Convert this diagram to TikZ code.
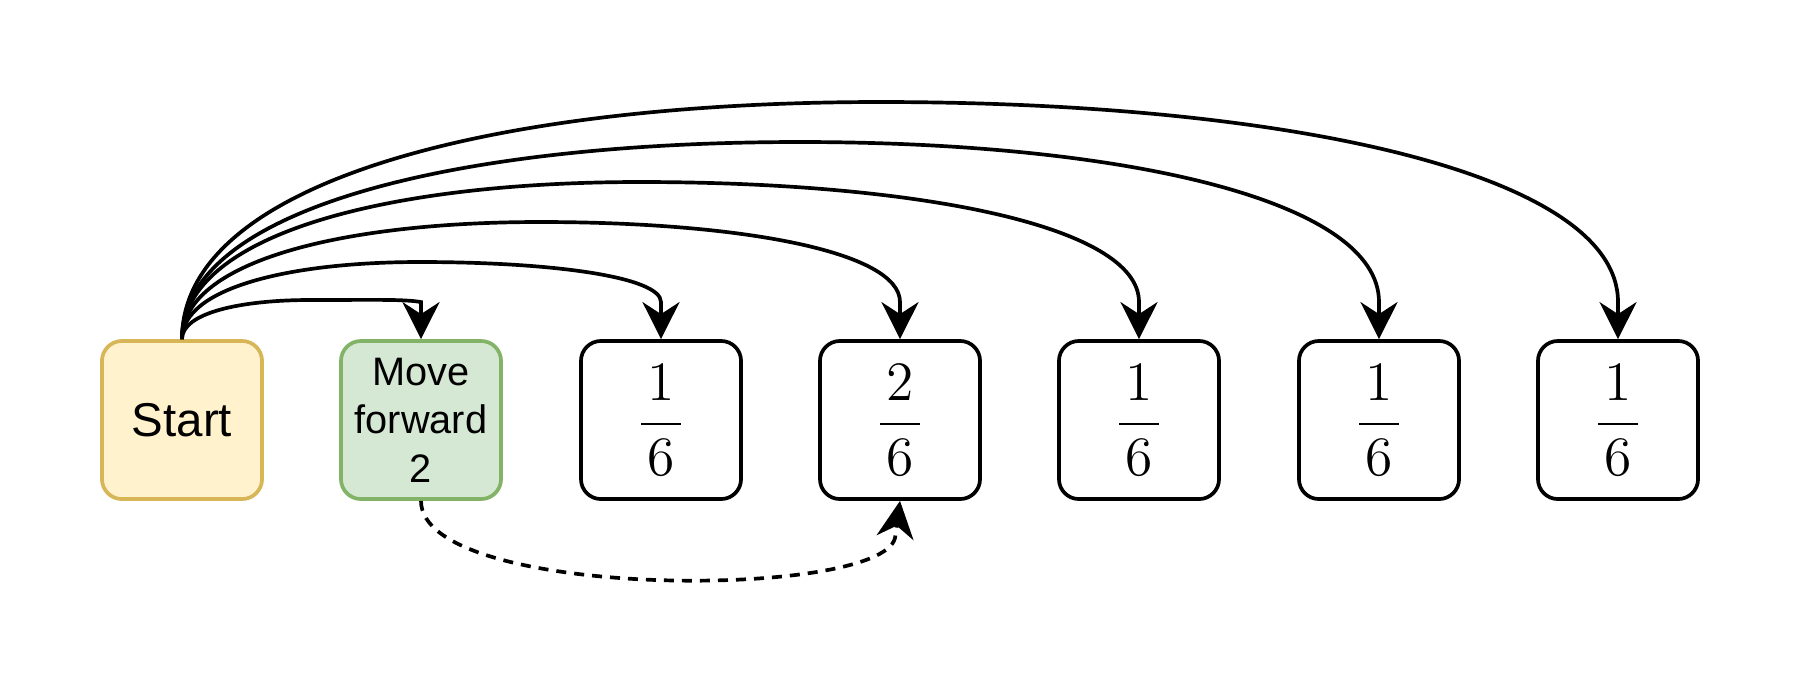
\RequirePackage{fix-cm}
\documentclass[tikz,border=0pt]{standalone}
\usepackage{amsmath}
\usepackage{fontspec}
\newfontfamily\hv{Liberation Sans}
\usetikzlibrary{arrows.meta}
\definecolor{startfill}{HTML}{FFF2CC}
\definecolor{startline}{HTML}{D6B656}
\definecolor{movefill}{HTML}{D5E8D4}
\definecolor{moveline}{HTML}{82B366}
\tikzset{
  box/.style={draw=black, line width=1.05pt, rounded corners=0.2cm, minimum width=1.6cm, minimum height=1.58cm, inner sep=0pt, align=center, fill=white},
  startbox/.style={box, draw=startline, fill=startfill, font=\hv\fontsize{13.5}{15}\selectfont},
  movebox/.style={box, draw=moveline, fill=movefill, font=\hv\fontsize{11.3}{13.75}\selectfont},
  fracbox/.style={box, font=\fontsize{15.8}{18}\selectfont},
  arr/.style={line width=1.05pt, -{Stealth[length=0.37cm, width=0.37cm, inset=0.12cm]}},
  dasharr/.style={arr, dash pattern=on 0.1cm off 0.08cm}
}
\newcommand{\fr}[2]{$\displaystyle\frac{\kern1.8pt#1\kern1.8pt}{\kern1.8pt#2\kern1.8pt}$}
\begin{document}
\begin{tikzpicture}[x=0.01cm, y=-0.01cm]
\useasboundingbox (0,0) rectangle (1800,687);
\node[startbox] (s) at (182,420) {Start};
\node[movebox] (m) at (421,420) {Move\\forward\\2};
\node[fracbox] (b3) at (661,420) {\fr{1}{6}};
\node[fracbox] (b4) at (900,420) {\fr{2}{6}};
\node[fracbox] (b5) at (1139,420) {\fr{1}{6}};
\node[fracbox] (b6) at (1379,420) {\fr{1}{6}};
\node[fracbox] (b7) at (1618,420) {\fr{1}{6}};
% curves from Start
\draw[arr] (s.north) .. controls (182,180.5) and (496,102) .. (880,102)
  .. controls (1286,102) and (1618,173) .. ([yshift=0.37cm]b7.north) -- (b7.north);
\draw[arr] (s.north) .. controls (182,207) and (460,142) .. (800,142)
  .. controls (1118,142) and (1379,199) .. ([yshift=0.37cm]b6.north) -- (b6.north);
\draw[arr] (s.north) .. controls (182,234) and (388,182) .. (640,182)
  .. controls (914,182) and (1139,225) .. ([yshift=0.37cm]b5.north) -- (b5.north);
\draw[arr] (s.north) .. controls (182,261) and (343,222) .. (540,222)
  .. controls (738,222) and (900,251) .. ([yshift=0.37cm]b4.north) -- (b4.north);
\draw[arr] (s.north) .. controls (182,288) and (289,262) .. (420,262)
  .. controls (553,262) and (661,277) .. ([yshift=0.37cm]b3.north) -- (b3.north);
\draw[arr] (s.north) .. controls (182,313) and (240,300) .. (310,300)
  .. controls (371,300) and (405,299) .. ([yshift=0.37cm]m.north) -- (m.north);
% dashed
\coordinate (dback) at (895,538);
\draw[dasharr] (m.south) .. controls (421,600) and (880,600) .. (dback) -- (b4.south);
\end{tikzpicture}
\end{document}
